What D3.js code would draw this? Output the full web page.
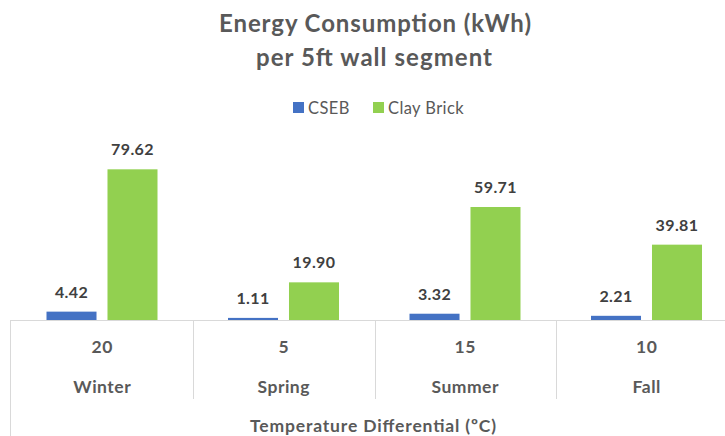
<!DOCTYPE html>
<html>
<head>
<meta charset="utf-8">
<script src="https://cdn.jsdelivr.net/npm/d3@7"></script>
<style>
  body { margin: 0; background: #fff; }
  text { font-family: Lato, "Open Sans", sans-serif; font-weight: bold; }
</style>
</head>
<body>
<div id="chart"></div>
<script>
// data
var seasons = ["Winter", "Spring", "Summer", "Fall"];
var tempDiff = ["20", "5", "15", "10"];
var series = ["CSEB", "Clay Brick"];
var cseb = [4.42, 1.11, 3.32, 2.21];
var clayBrick = [79.62, 19.90, 59.71, 39.81];

var colors = { "CSEB": "#4472C4", "Clay Brick": "#92D050" };

var width = 725, height = 436;
var baseY = 320;

var svg = d3.select("#chart").append("svg")
  .attr("width", width)
  .attr("height", height);

var rows = seasons.map(function(s, i) {
  return { season: s, temp: tempDiff[i], values: [
    { key: "CSEB", value: cseb[i] },
    { key: "Clay Brick", value: clayBrick[i] }
  ]};
});

var x0 = d3.scaleBand()
  .domain(seasons)
  .range([11.5, 737.5])
  .paddingInner(0);

var x1 = d3.scaleBand()
  .domain(series)
  .range([35, 146])
  .paddingInner(0.18);

var y = d3.scaleLinear()
  .domain([0, 80])
  .range([baseY, 168.6]);

// title
svg.append("text")
  .attr("x", 375).attr("y", 32)
  .attr("text-anchor", "middle")
  .attr("textLength", 312).attr("lengthAdjust", "spacing")
  .style("font-size", "24px").style("fill", "#595959")
  .text("Energy Consumption (kWh)");
svg.append("text")
  .attr("x", 374).attr("y", 66)
  .attr("text-anchor", "middle")
  .attr("textLength", 236).attr("lengthAdjust", "spacing")
  .style("font-size", "24px").style("fill", "#595959")
  .text("per 5ft wall segment");

// legend
var legend = svg.append("g").attr("transform", "translate(0,108)");
var legendX = [293, 373];
series.forEach(function(s, i) {
  legend.append("rect")
    .attr("x", legendX[i]).attr("y", -6)
    .attr("width", 11).attr("height", 11)
    .attr("fill", colors[s]);
  legend.append("text")
    .attr("x", legendX[i] + 15).attr("y", 6)
    .style("font-size", "16.5px").style("font-weight", "normal").style("fill", "#595959")
    .style("letter-spacing", "0.4px")
    .text(s);
});

// bars
var groups = svg.selectAll(".grp")
  .data(rows)
  .enter().append("g")
  .attr("class", "grp")
  .attr("transform", function(d) { return "translate(" + x0(d.season) + ",0)"; });

groups.selectAll("rect")
  .data(function(d) { return d.values; })
  .enter().append("rect")
  .attr("x", function(d) { return x1(d.key); })
  .attr("y", function(d) { return y(d.value); })
  .attr("width", x1.bandwidth())
  .attr("height", function(d) { return baseY - y(d.value); })
  .attr("fill", function(d) { return colors[d.key]; });

groups.selectAll(".label")
  .data(function(d) { return d.values; })
  .enter().append("text")
  .attr("class", "label")
  .attr("x", function(d) { return x1(d.key) + x1.bandwidth() / 2; })
  .attr("y", function(d) { return y(d.value) - 14; })
  .attr("text-anchor", "middle")
  .style("font-size", "16px").style("fill", "#404040")
  .style("letter-spacing", "0.4px")
  .text(function(d) { return d3.format(".2f")(d.value); });

// category axis (multi-level)
var axisColor = "#d9d9d9";
svg.append("line")
  .attr("x1", 10).attr("x2", width)
  .attr("y1", baseY + 0.5).attr("y2", baseY + 0.5)
  .attr("stroke", axisColor);
svg.append("line")
  .attr("x1", 10.5).attr("x2", 10.5)
  .attr("y1", baseY).attr("y2", height)
  .attr("stroke", axisColor);

seasons.slice(1).forEach(function(s) {
  svg.append("line")
    .attr("x1", Math.round(x0(s)) + 0.5).attr("x2", Math.round(x0(s)) + 0.5)
    .attr("y1", baseY).attr("y2", 399)
    .attr("stroke", axisColor);
});

svg.selectAll(".temp")
  .data(rows)
  .enter().append("text")
  .attr("class", "temp")
  .attr("x", function(d) { return x0(d.season) + x0.bandwidth() / 2; })
  .attr("y", 353)
  .attr("text-anchor", "middle")
  .style("font-size", "17.5px").style("fill", "#595959")
  .style("letter-spacing", "0.5px")
  .text(function(d) { return d.temp; });

svg.selectAll(".season")
  .data(rows)
  .enter().append("text")
  .attr("class", "season")
  .attr("x", function(d) { return x0(d.season) + x0.bandwidth() / 2; })
  .attr("y", 393)
  .attr("text-anchor", "middle")
  .style("font-size", "17.5px").style("fill", "#595959")
  .style("letter-spacing", "0.5px")
  .text(function(d) { return d.season; });

svg.append("text")
  .attr("x", 373).attr("y", 432)
  .attr("text-anchor", "middle")
  .attr("textLength", 246).attr("lengthAdjust", "spacing")
  .style("font-size", "17.5px").style("fill", "#595959")
  .text("Temperature  Differential (ºC)");
</script>
</body>
</html>
